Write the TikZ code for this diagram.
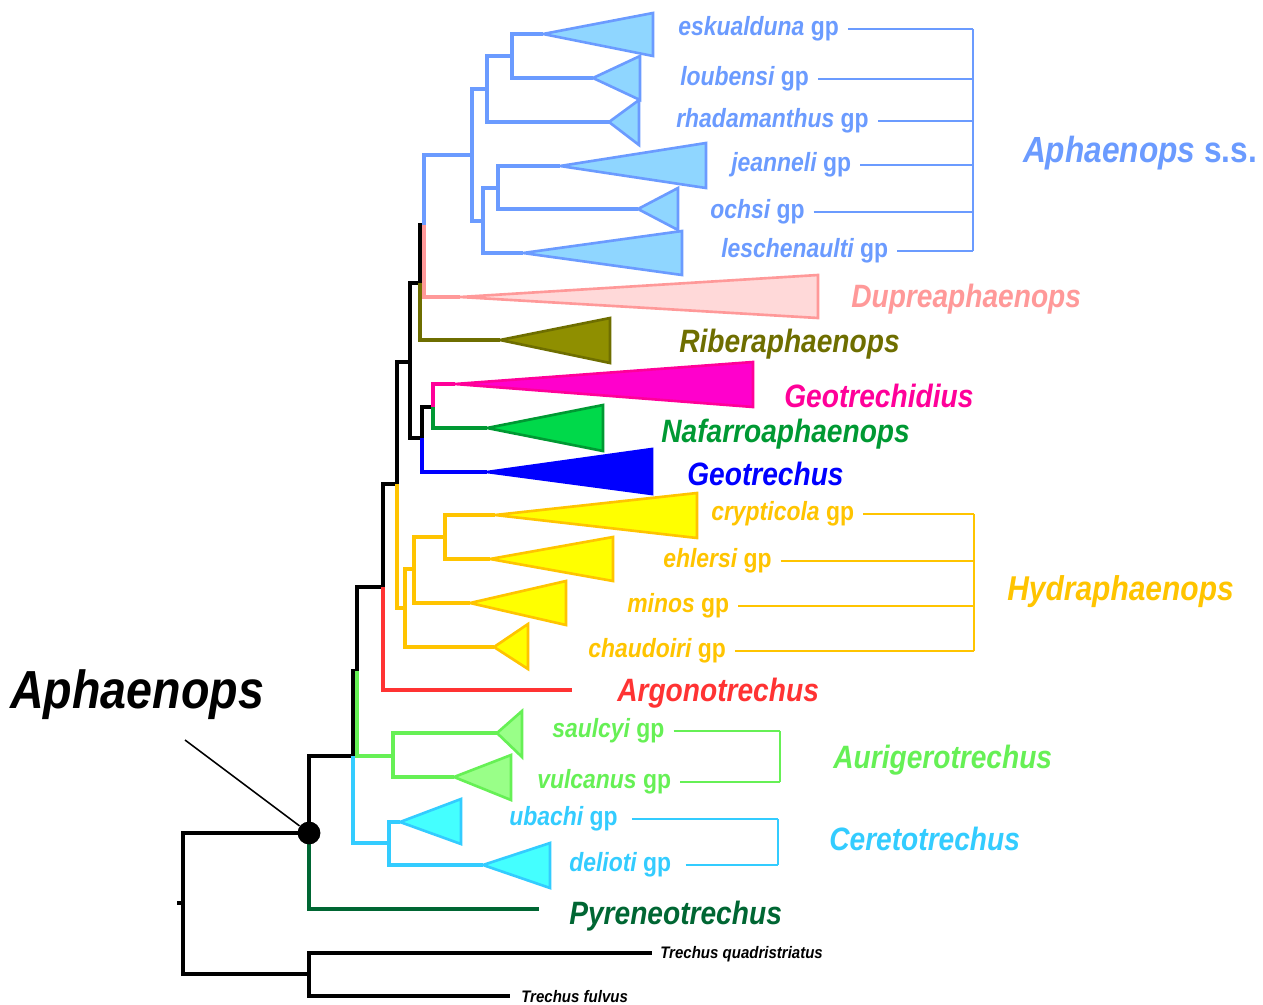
\documentclass[tikz,border=0pt]{standalone}
\usepackage{fontspec}
\setmainfont{Liberation Sans}
\usetikzlibrary{positioning,calc}
\definecolor{ssblue}{HTML}{6B9BFF}
\definecolor{ssfill}{HTML}{8FD6FF}
\definecolor{dupline}{HTML}{FF9999}
\definecolor{dupfill}{HTML}{FFD9D9}
\definecolor{ribline}{HTML}{6E6E00}
\definecolor{ribfill}{HTML}{8F8F00}
\definecolor{gdline}{HTML}{FF0099}
\definecolor{gdfill}{HTML}{FF00CC}
\definecolor{nafline}{HTML}{009933}
\definecolor{naffill}{HTML}{00D94A}
\definecolor{geoblue}{HTML}{0000FF}
\definecolor{hydline}{HTML}{FFC400}
\definecolor{hydfill}{HTML}{FFFF00}
\definecolor{argred}{HTML}{FF3333}
\definecolor{aurline}{HTML}{66F055}
\definecolor{aurfill}{HTML}{99FF88}
\definecolor{cerline}{HTML}{33CCFF}
\definecolor{cerfill}{HTML}{44FFFF}
\definecolor{pyrgreen}{HTML}{006633}

\begin{document}
\begin{tikzpicture}[
x=0.02cm, y=-0.02cm,
branch/.style={line width=1.8pt},
tri/.style={line width=1.5pt, line join=miter},
bracket/.style={line width=0.8pt},
gp/.style={anchor=west, inner sep=0pt, xscale=0.87, font=\fontsize{15}{17}\selectfont\bfseries},
genus/.style={anchor=west, inner sep=0pt, yshift=-1.5pt, xscale=0.87, font=\fontsize{18.4}{21}\selectfont\bfseries\itshape},
outgroup/.style={anchor=west, inner sep=0pt, xscale=0.9, font=\fontsize{9.5}{11}\selectfont\bfseries\itshape}
]
\useasboundingbox (0,0) rectangle (1263,1004);

% internal nodes of the tree
\coordinate (stub) at (177,903);
\coordinate (root) at (183,903);
\coordinate (out) at (309,974);
\coordinate (ap) at (309,833);
\coordinate (n1) at (353,756);
\coordinate (n2) at (357,671);
\coordinate (n3) at (383,587);
\coordinate (n4) at (397,484);
\coordinate (n5) at (410,362);
\coordinate (n6) at (420,283);
\coordinate (n7) at (422,438);
\coordinate (n8) at (433,407);
\coordinate (n9) at (424,225);
\coordinate (aph) at (472,155);
\coordinate (a1) at (487,89);
\coordinate (a2) at (483,221);
\coordinate (a3) at (512,56);
\coordinate (a4) at (498,188);
\coordinate (hyd) at (405,608);
\coordinate (hy1) at (414,569);
\coordinate (hy2) at (445,537);
\coordinate (aur) at (393,756);
\coordinate (cer) at (389,843);

% tips
\coordinate (tqT) at (652,953);
\coordinate (tfT) at (510,996);
\coordinate (pyrT) at (539,909);
\coordinate (argT) at (572,690);
\coordinate (eskT) at (543,34);
\coordinate (louT) at (593,78);
\coordinate (rhaT) at (609,122);
\coordinate (jeaT) at (560,166);
\coordinate (ochT) at (638,209);
\coordinate (lesT) at (523,253);
\coordinate (dupT) at (460,297);
\coordinate (ribT) at (500,340);
\coordinate (gdT) at (455,384);
\coordinate (nafT) at (487,428);
\coordinate (geoT) at (487,472);
\coordinate (cryT) at (495,515);
\coordinate (ehlT) at (490,559);
\coordinate (minT) at (470,603);
\coordinate (chaT) at (494,647);
\coordinate (sauT) at (497,733);
\coordinate (vulT) at (454,777);
\coordinate (ubaT) at (400,822);
\coordinate (delT) at (483,865);

% backbone
\draw[branch] (stub) -- (root);
\draw[branch] (root) |- (ap);
\draw[branch] (root) |- (out);
\draw[branch] (out) |- (tqT);
\draw[branch] (out) |- (tfT);
\draw[branch] (ap) |- (n1);
\draw[branch] (n1) |- (n2);
\draw[branch] (n2) |- (n3);
\draw[branch] (n3) |- (n4);
\draw[branch] (n4) |- (n5);
\draw[branch] (n5) |- (n6);
\draw[branch] (n5) |- (n7);
\draw[branch] (n7) |- (n8);
\draw[branch] (n6) |- (n9);

% clades
\draw[branch, pyrgreen] (ap) |- (pyrT);
\draw[branch, cerline] (n1) |- (cer);
\draw[branch, cerline] (cer) |- (ubaT);
\draw[branch, cerline] (cer) |- (delT);
\draw[branch, aurline] (n2) |- (aur);
\draw[branch, aurline] (aur) |- (sauT);
\draw[branch, aurline] (aur) |- (vulT);
\draw[branch, argred] (n3) |- (argT);
\draw[branch, hydline] (n4) |- (hyd);
\draw[branch, hydline] (hyd) |- (hy1);
\draw[branch, hydline] (hyd) |- (chaT);
\draw[branch, hydline] (hy1) |- (hy2);
\draw[branch, hydline] (hy1) |- (minT);
\draw[branch, hydline] (hy2) |- (cryT);
\draw[branch, hydline] (hy2) |- (ehlT);
\draw[branch, geoblue] (n7) |- (geoT);
\draw[branch, gdline] (n8) |- (gdT);
\draw[branch, nafline] (n8) |- (nafT);
\draw[branch, ribline] (n6) |- (ribT);
\draw[branch, dupline] (n9) |- (dupT);
\draw[branch, ssblue] (n9) |- (aph);
\draw[branch, ssblue] (aph) |- (a1);
\draw[branch, ssblue] (aph) |- (a2);
\draw[branch, ssblue] (a1) |- (a3);
\draw[branch, ssblue] (a1) |- (rhaT);
\draw[branch, ssblue] (a3) |- (eskT);
\draw[branch, ssblue] (a3) |- (louT);
\draw[branch, ssblue] (a2) |- (a4);
\draw[branch, ssblue] (a2) |- (lesT);
\draw[branch, ssblue] (a4) |- (jeaT);
\draw[branch, ssblue] (a4) |- (ochT);

% collapsed groups
\draw[tri, ssblue, fill=ssfill] (eskT) -- (653,13) -- (653,56) -- cycle;
\draw[tri, ssblue, fill=ssfill] (louT) -- (640,56) -- (640,100) -- cycle;
\draw[tri, ssblue, fill=ssfill] (rhaT) -- (639,100) -- (639,145) -- cycle;
\draw[tri, ssblue, fill=ssfill] (jeaT) -- (706,143) -- (706,188) -- cycle;
\draw[tri, ssblue, fill=ssfill] (ochT) -- (678,188) -- (678,230) -- cycle;
\draw[tri, ssblue, fill=ssfill] (lesT) -- (682,231) -- (682,275) -- cycle;
\draw[tri, dupline, fill=dupfill] (dupT) -- (818,275) -- (818,318) -- cycle;
\draw[tri, ribline, fill=ribfill] (ribT) -- (610,318) -- (610,363) -- cycle;
\draw[tri, gdline, fill=gdfill] (gdT) -- (753,362) -- (753,407) -- cycle;
\draw[tri, nafline, fill=naffill] (nafT) -- (603,405) -- (603,451) -- cycle;
\draw[tri, geoblue, fill=geoblue] (geoT) -- (652,449) -- (652,494) -- cycle;
\draw[tri, hydline, fill=hydfill] (cryT) -- (697,493) -- (697,538) -- cycle;
\draw[tri, hydline, fill=hydfill] (ehlT) -- (613,537) -- (613,581) -- cycle;
\draw[tri, hydline, fill=hydfill] (minT) -- (566,581) -- (566,625) -- cycle;
\draw[tri, hydline, fill=hydfill] (chaT) -- (528,624) -- (528,669) -- cycle;
\draw[tri, aurline, fill=aurfill] (sauT) -- (522,711) -- (522,757) -- cycle;
\draw[tri, aurline, fill=aurfill] (vulT) -- (511,755) -- (511,800) -- cycle;
\draw[tri, cerline, fill=cerfill] (ubaT) -- (461,799) -- (461,844) -- cycle;
\draw[tri, cerline, fill=cerfill] (delT) -- (550,843) -- (550,888) -- cycle;

% Aphaenops s.s.
\node[gp, ssblue] (eskL) at (678,29) {\itshape eskualduna\upshape\ gp};
\node[gp, ssblue] (louL) at (680,79) {\itshape loubensi\upshape\ gp};
\node[gp, ssblue] (rhaL) at (676,121) {\itshape rhadamanthus\upshape\ gp};
\node[gp, ssblue] (jeaL) at (731,165) {\itshape jeanneli\upshape\ gp};
\node[gp, ssblue] (ochL) at (710,212) {\itshape ochsi\upshape\ gp};
\node[gp, ssblue] (lesL) at (721,251) {\itshape leschenaulti\upshape\ gp};
\coordinate (ssx) at (973,0);
\foreach \l in {eskL,louL,rhaL,jeaL,ochL,lesL}
  \draw[bracket, ssblue] ([xshift=5pt]\l.east) -- (\l.east -| ssx);
\draw[bracket, ssblue] (eskL.east -| ssx) -- (lesL.east -| ssx);
\node[ssblue, inner sep=0pt, xscale=0.87, font=\fontsize{20.7}{24}\selectfont\bfseries\itshape] (ssL) at (1140,153) {Aphaenops \upshape s.s.};

\node[genus, dupline] (dupL) at (851,297) {Dupreaphaenops};
\node[genus, ribline] (ribL) at (679,341) {Riberaphaenops};
\node[genus, gdline] (gdL) at (784,393) {Geotrechidius};
\node[genus, nafline] (nafL) at (661,431) {Nafarroaphaenops};
\node[genus, geoblue] (geoL) at (687,471) {Geotrechus};

% Hydraphaenops
\node[gp, hydline] (cryL) at (711,514) {\itshape crypticola\upshape\ gp};
\node[gp, hydline] (ehlL) at (663,561) {\itshape ehlersi\upshape\ gp};
\node[gp, hydline] (minL) at (627,606) {\itshape minos\upshape\ gp};
\node[gp, hydline] (chaL) at (588,651) {\itshape chaudoiri\upshape\ gp};
\coordinate (hydx) at (974,0);
\foreach \l in {cryL,ehlL,minL,chaL}
  \draw[bracket, hydline] ([xshift=5pt]\l.east) -- (\l.east -| hydx);
\draw[bracket, hydline] (cryL.east -| hydx) -- (chaL.east -| hydx);
\node[genus, hydline, font=\fontsize{19.6}{23}\selectfont\bfseries\itshape] (hydL) at (1007,589) {Hydraphaenops};

\node[genus, argred] (argL) at (617,690) {Argonotrechus};

% Aurigerotrechus
\node[gp, aurline] (sauL) at (552,731) {\itshape saulcyi\upshape\ gp};
\node[gp, aurline] (vulL) at (537,782) {\itshape vulcanus\upshape\ gp};
\coordinate (aurx) at (780,0);
\foreach \l in {sauL,vulL}
  \draw[bracket, aurline] ([xshift=5pt]\l.east) -- (\l.east -| aurx);
\draw[bracket, aurline] (sauL.east -| aurx) -- (vulL.east -| aurx);
\node[genus, aurline] (aurL) at (833,757) {Aurigerotrechus};

% Ceretotrechus
\node[gp, cerline] (ubaL) at (509,819) {\itshape ubachi\upshape\ gp};
\node[gp, cerline] (delL) at (569,865) {\itshape delioti\upshape\ gp};
\coordinate (cerx) at (778,0);
\foreach \l in {ubaL,delL}
  \draw[bracket, cerline] ([xshift=8pt]\l.east) -- (\l.east -| cerx);
\draw[bracket, cerline] (ubaL.east -| cerx) -- (delL.east -| cerx);
\node[genus, cerline] (cerL) at (829,836) {Ceretotrechus};

\node[genus, pyrgreen] (pyrL) at (569,913) {Pyreneotrechus};
\node[outgroup] (tqL) at (660,954) {Trechus quadristriatus};
\node[outgroup] (tfL) at (521,997) {Trechus fulvus};

% genus node
\node[circle, fill=black, inner sep=0pt, minimum size=13pt] (apdot) at (ap) {};
\node[anchor=west, inner sep=0pt, xscale=0.87, font=\fontsize{30.5}{34}\selectfont\bfseries\itshape] (apL) at (10,695) {Aphaenops};
\coordinate (ptr) at (185,740);
\draw[line width=0.9pt] (ptr) -- (apdot);
\end{tikzpicture}
\end{document}
